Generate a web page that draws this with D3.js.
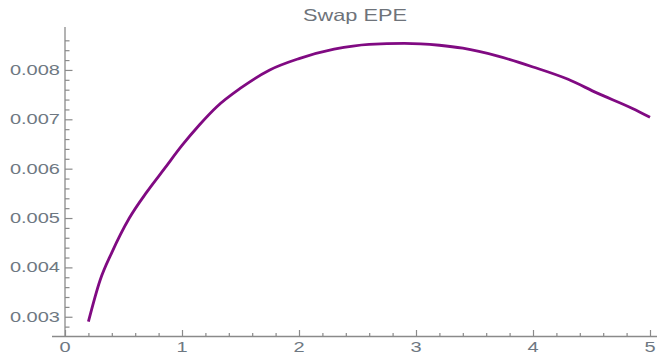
<!DOCTYPE html>
<html>
<head>
<meta charset="utf-8">
<script src="https://cdn.jsdelivr.net/npm/d3@7"></script>
<style>
  body { margin: 0; background: #fff; }
  svg text { font-family: "Liberation Sans", Arial, sans-serif; }
</style>
</head>
<body>
<svg id="chart" width="658" height="356"></svg>
<script>
(function() {

  var times = [0.2, 0.3, 0.4, 0.55, 0.7, 0.85, 1.0, 1.15, 1.3, 1.5, 1.75, 2.0,
               2.3, 2.6, 2.9, 3.2, 3.4, 3.7, 4.0, 4.3, 4.55, 4.85, 5.0];
  var epe = [0.00290, 0.00374, 0.00430, 0.00500, 0.00553, 0.00600, 0.00647, 0.00689,
             0.00726, 0.00763, 0.00800, 0.00823, 0.00842, 0.00852, 0.00854, 0.00850,
             0.00844, 0.00828, 0.00806, 0.00781, 0.00753, 0.00722, 0.00704];
  var xTicks = [0, 1, 2, 3, 4, 5];
  var yTicks = [0.003, 0.004, 0.005, 0.006, 0.007, 0.008];
  var title = 'Swap EPE';

  var svg = d3.select('#chart');

  var x = d3.scaleLinear().domain([0, 5]).range([65, 650]);
  var y = d3.scaleLinear().domain([0.0026, 0.00887]).range([336.5, 27]);

  var axisColor = '#8a8a8a';
  var labelColor = '#6e7882';

  draw();

  function tickGroup (parent, axis) {
    var g = parent.append('g').call(axis);
    g.selectAll('.domain').remove();
    g.selectAll('.tick line').attr('stroke', axisColor).attr('stroke-width', 1.2);
    return g;
  }

  function draw () {

    var xMinor = d3.range(0.2, 5, 0.2).filter(function(d) { return Math.abs(d - Math.round(d)) > 0.01; });
    var yMinor = d3.range(0.0028, 0.0088, 0.0002).filter(function(d) { return Math.abs(d * 1000 - Math.round(d * 1000)) > 0.01; });

    var xg = svg.append('g').attr('transform', 'translate(0,' + y(0.0026) + ')');
    tickGroup(xg, d3.axisTop(x).tickValues(xMinor).tickSize(3.5).tickFormat(''));
    tickGroup(xg, d3.axisTop(x).tickValues(xTicks).tickSize(6.5).tickFormat(''));
    xg.append('line')
      .attr('x1', 52).attr('x2', 657)
      .attr('stroke', axisColor).attr('stroke-width', 1.3);

    xg.selectAll('.xlab')
      .data(xTicks)
      .enter()
      .append('text')
      .attr('transform', function(d) { return 'translate(' + x(d) + ',15.5) scale(1.43,1)'; })
      .attr('text-anchor', 'middle')
      .attr('font-size', 14)
      .attr('fill', labelColor)
      .text(function(d) { return d; });

    var yg = svg.append('g').attr('transform', 'translate(' + x(0) + ',0)');
    tickGroup(yg, d3.axisRight(y).tickValues(yMinor).tickSize(4.5).tickFormat(''));
    tickGroup(yg, d3.axisRight(y).tickValues(yTicks).tickSize(7.5).tickFormat(''));
    yg.append('line')
      .attr('y1', 27).attr('y2', y(0.0026))
      .attr('stroke', axisColor).attr('stroke-width', 1.3);

    yg.selectAll('.ylab')
      .data(yTicks)
      .enter()
      .append('text')
      .attr('transform', function(d) { return 'translate(-5,' + (y(d) + 5) + ') scale(1.43,1.05)'; })
      .attr('text-anchor', 'end')
      .attr('font-size', 14)
      .attr('fill', labelColor)
      .text(function(d) { return d3.format('.3f')(d); });

    var line = d3.line()
      .x(function(d, i) { return x(times[i]); })
      .y(function(d) { return y(d); })
      .curve(d3.curveMonotoneX);

    svg.append('path')
      .datum(epe)
      .attr('d', line)
      .attr('fill', 'none')
      .attr('stroke', '#800a82')
      .attr('stroke-width', 2.8)
      .attr('stroke-linejoin', 'round');

    svg.append('text')
      .attr('transform', 'translate(355,21) scale(1.28,1.02)')
      .attr('text-anchor', 'middle')
      .attr('font-size', 17)
      .attr('fill', '#6e737a')
      .text(title);
  }

})();
</script>
</body>
</html>
